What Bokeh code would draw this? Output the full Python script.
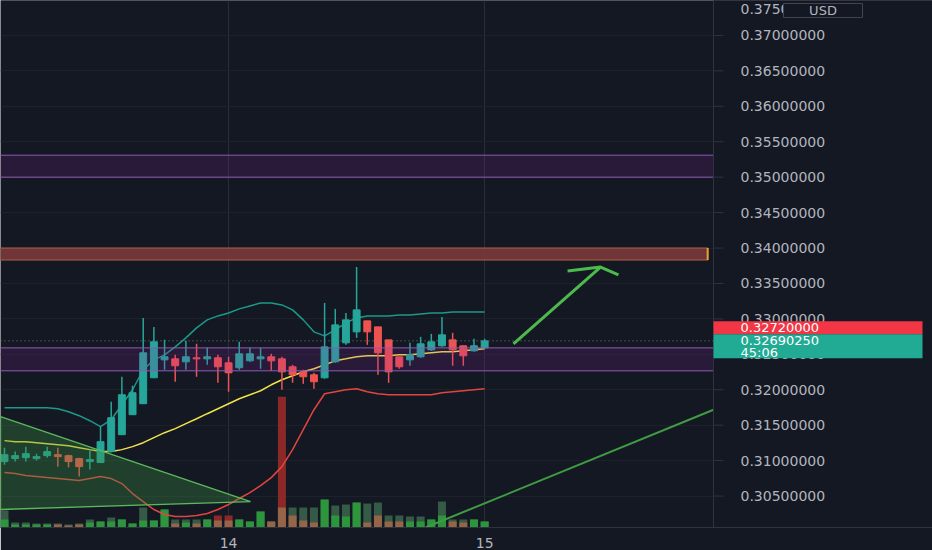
from bokeh.plotting import figure
from bokeh.models import Range1d, FixedTicker, Grid
from bokeh.core.properties import value
from bokeh.embed import file_html
from bokeh.resources import INLINE

# ---------------- data ----------------
idx = list(range(46))
opens = [0.30986, 0.31028, 0.31042, 0.31028, 0.31070, 0.31084, 0.31070, 0.31028, 0.30986, 0.30972,
         0.31127, 0.31366, 0.31648, 0.31803, 0.32169, 0.32422, 0.32436, 0.32394, 0.32451, 0.32436,
         0.32451, 0.32380, 0.32310, 0.32408, 0.32436, 0.32465, 0.32436, 0.32324, 0.32253, 0.32211,
         0.32169, 0.32394, 0.32662, 0.32817, 0.32972, 0.32887, 0.32704, 0.32465, 0.32422, 0.32465,
         0.32563, 0.32620, 0.32704, 0.32620, 0.32549, 0.32591]
closes = [0.31084, 0.31070, 0.31098, 0.31056, 0.31127, 0.31056, 0.30986, 0.30915, 0.31014, 0.31267,
          0.31605, 0.31929, 0.31958, 0.32521, 0.32676, 0.32465, 0.32338, 0.32465, 0.32436, 0.32465,
          0.32324, 0.32239, 0.32507, 0.32507, 0.32465, 0.32408, 0.32253, 0.32211, 0.32183, 0.32113,
          0.32605, 0.32915, 0.32986, 0.33127, 0.32817, 0.32521, 0.32253, 0.32324, 0.32493, 0.32648,
          0.32676, 0.32775, 0.32563, 0.32479, 0.32620, 0.32690]
highs = [0.31183, 0.31127, 0.31197, 0.31098, 0.31197, 0.31183, 0.31084, 0.31042, 0.31155, 0.31479,
         0.31831, 0.32183, 0.32056, 0.33014, 0.32887, 0.32704, 0.32493, 0.32690, 0.32648, 0.32591,
         0.32493, 0.32465, 0.32676, 0.32591, 0.32591, 0.32507, 0.32465, 0.32352, 0.32282, 0.32239,
         0.33225, 0.33141, 0.33084, 0.33732, 0.32972, 0.32887, 0.32704, 0.32465, 0.32662, 0.32746,
         0.32789, 0.33028, 0.32803, 0.32620, 0.32718, 0.32718]
lows = [0.30943, 0.30986, 0.30986, 0.31000, 0.31042, 0.30915, 0.30901, 0.30774, 0.30873, 0.30972,
        0.31127, 0.31366, 0.31648, 0.31803, 0.32169, 0.32282, 0.32113, 0.32282, 0.32183, 0.32352,
        0.32098, 0.31972, 0.32282, 0.32394, 0.32296, 0.32267, 0.32000, 0.32098, 0.32084, 0.32014,
        0.32155, 0.32380, 0.32634, 0.32732, 0.32634, 0.32211, 0.32098, 0.32296, 0.32338, 0.32451,
        0.32549, 0.32605, 0.32338, 0.32338, 0.32535, 0.32577]

band_upper = [0.31746, 0.31746, 0.31746, 0.31746, 0.31746, 0.31732, 0.31690, 0.31634, 0.31563, 0.31479,
              0.31577, 0.31789, 0.32000, 0.32282, 0.32422, 0.32493, 0.32606, 0.32732, 0.32873, 0.32986,
              0.33042, 0.33084, 0.33141, 0.33183, 0.33225, 0.33225, 0.33197, 0.33127, 0.32986, 0.32817,
              0.32760, 0.32845, 0.32944, 0.33014, 0.33042, 0.33042, 0.33042, 0.33056, 0.33056, 0.33070,
              0.33084, 0.33084, 0.33098, 0.33098, 0.33098, 0.33098]
band_mid = [0.31282, 0.31267, 0.31267, 0.31253, 0.31239, 0.31225, 0.31211, 0.31183, 0.31155, 0.31127,
            0.31127, 0.31155, 0.31197, 0.31253, 0.31324, 0.31394, 0.31451, 0.31521, 0.31591, 0.31662,
            0.31732, 0.31803, 0.31873, 0.31929, 0.31986, 0.32070, 0.32141, 0.32197, 0.32253, 0.32296,
            0.32352, 0.32408, 0.32436, 0.32465, 0.32479, 0.32479, 0.32479, 0.32493, 0.32493, 0.32507,
            0.32521, 0.32535, 0.32535, 0.32549, 0.32563, 0.32577]
band_lower = [0.30831, 0.30817, 0.30789, 0.30775, 0.30760, 0.30746, 0.30732, 0.30718, 0.30746, 0.30775,
              0.30746, 0.30676, 0.30535, 0.30422, 0.30310, 0.30239, 0.30211, 0.30211, 0.30225, 0.30253,
              0.30310, 0.30380, 0.30465, 0.30549, 0.30648, 0.30760, 0.30915, 0.31155, 0.31436, 0.31718,
              0.31944, 0.31972, 0.32000, 0.32014, 0.31972, 0.31944, 0.31929, 0.31929, 0.31929, 0.31929,
              0.31929, 0.31958, 0.31972, 0.31986, 0.32000, 0.32014]

# volume (relative units): total bar and the directional part drawn in front of it
vol_total = [17, 5, 5, 4, 4, 4, 3, 4, 8, 6, 10, 8, 4, 20, 7, 18, 8, 8, 8, 8, 12, 12, 8, 6, 16, 6,
             131, 20, 20, 20, 28, 22, 23, 25, 24, 25, 12, 12, 11, 11, 8, 26, 8, 8, 8, 6]
vol_part = [8, 3, 3, 3, 3, 3, 2, 3, 5, 6, 6, 8, 4, 7, 7, 18, 4, 5, 4, 8, 7, 7, 8, 6, 16, 6,
            20, 12, 7, 5, 28, 12, 11, 25, 5, 12, 6, 6, 6, 6, 8, 12, 6, 5, 8, 6]
vol_spike_idx = [20, 21, 26]

price_ticks = [0.305, 0.310, 0.315, 0.320, 0.325, 0.330, 0.335, 0.340, 0.345, 0.350,
               0.355, 0.360, 0.365, 0.370, 0.375]
day_ticks = [21, 45]
day_labels = ["14", "15"]

zone_purple_hi = (0.35000, 0.35310)
zone_purple_lo = (0.32267, 0.32591)
zone_orange = (0.33831, 0.34000)
zone_orange_end = 65.9

wedge_x = [-0.375, 23.06, -0.375]
wedge_y = [0.31620, 0.30422, 0.30310]
trend_x = [39.46, 66.45]
trend_y = [0.30056, 0.31718]
arrow_shaft_x = [47.7, 55.86]
arrow_shaft_y = [0.32648, 0.33732]
arrow_head_x = [52.77, 55.86, 57.54]
arrow_head_y = [0.33676, 0.33732, 0.33620]

last_price = 0.3269025
last_price_text = "0.32690250"
countdown_text = "45:06"
other_price = 0.3272
other_price_text = "0.32720000"
currency = "USD"

# ---------------- layout constants ----------------
W, H = 932, 550
FRAME_H = 528
PPX = 10.67                      # pixels per candle
X0 = -0.375
X1 = X0 + W / PPX
Y0, Y1 = 0.30056, 0.37493
PPY = FRAME_H / (Y1 - Y0)        # pixels per price unit
SCALE_X = X0 + 713 / PPX         # left edge of the price scale


def dx(px):
    return px / PPX


def dy(px):
    return px / PPY


BG = "#141823"
TXT = "#b2b5be"
UP = "#26a69a"
DN = "#ef5350"
SEP = "#2f3340"
FONT = value("DejaVu Sans")

p = figure(width=W, height=H, output_backend="svg", toolbar_location=None,
           x_range=Range1d(X0, X1), y_range=Range1d(Y0, Y1),
           y_axis_location=None, min_border_left=0, min_border_top=0,
           min_border_right=0, min_border_bottom=H - FRAME_H)
p.background_fill_color = BG
p.border_fill_color = BG
p.outline_line_color = None
p.extra_y_ranges = {"vol": Range1d(0, FRAME_H)}

xa = p.xaxis[0]
xa.ticker = FixedTicker(ticks=day_ticks)
xa.major_label_overrides = {t: l for t, l in zip(day_ticks, day_labels)}
xa.major_label_text_font = "DejaVu Sans"
xa.major_label_text_font_size = "14px"
xa.major_label_text_color = TXT
xa.axis_line_color = SEP
xa.major_tick_line_color = None
xa.minor_tick_line_color = None
xa.major_label_standoff = 4

p.xgrid.grid_line_color = "#2a2e39"
p.add_layout(Grid(dimension=1, ticker=FixedTicker(ticks=price_ticks),
                  grid_line_color="#1d212c"))

# price-scale background (hides grid in the scale area)
p.quad(left=[SCALE_X], right=[X1 + 1], bottom=[Y0 - 1], top=[Y1 + 1],
       fill_color=BG, line_color=None)

# volume
up = [c >= o for o, c in zip(opens, closes)]
total_colors = ["#8c2828" if i in vol_spike_idx else "#355a45" for i in idx]
part_colors = ["#2d963c" if u else "#966446" for u in up]
p.vbar(x=idx, top=vol_total, bottom=0, width=0.75, y_range_name="vol",
       fill_color=total_colors, line_color=None)
p.vbar(x=idx, top=vol_part, bottom=0, width=0.75, y_range_name="vol",
       fill_color=part_colors, line_color=None)

# bands
p.line(idx, band_upper, line_color="#1b998b", line_width=1.5)
p.line(idx, band_mid, line_color="#f0e44a", line_width=1.5)
p.line(idx, band_lower, line_color="#e0463f", line_width=1.5)

# candles
colors = [UP if u else DN for u in up]
tops = [max(o, c) for o, c in zip(opens, closes)]
bots = [min(o, c) for o, c in zip(opens, closes)]
p.segment(x0=idx, y0=highs, x1=idx, y1=lows, line_color=colors, line_width=1.5)
p.vbar(x=idx, top=tops, bottom=bots, width=0.65, fill_color=colors, line_color=colors)

# zones
for (lo, hi) in (zone_purple_hi, zone_purple_lo):
    p.quad(left=[X0 - 1], right=[SCALE_X], bottom=[lo], top=[hi], fill_color="#9c27b0",
           fill_alpha=0.16, line_color="#8e5bb5", line_width=1)
p.quad(left=[X0 - 1], right=[zone_orange_end], bottom=[zone_orange[0]], top=[zone_orange[1]],
       fill_color="#7a383c", fill_alpha=0.9, line_color="#b0603c", line_width=1.2)
p.segment(x0=[zone_orange_end], y0=[zone_orange[0]], x1=[zone_orange_end], y1=[zone_orange[1]],
          line_color="#e8a030", line_width=2)

# wedge
p.patch(wedge_x, wedge_y, fill_color="#3a8f40", fill_alpha=0.33,
        line_color="#5cb85c", line_width=1.3)

# trend line and arrow
p.line(trend_x, trend_y, line_color="#3f9c42", line_width=2)
p.line(arrow_shaft_x, arrow_shaft_y, line_color="#4cbb4c", line_width=3)
p.line(arrow_head_x, arrow_head_y, line_color="#4cbb4c", line_width=3)

# last price dotted line
p.segment(x0=[X0], y0=[last_price], x1=[SCALE_X], y1=[last_price],
          line_color="#787b86", line_dash="1 3", line_width=1)

# ---------------- price scale ----------------
p.segment(x0=[SCALE_X], y0=[Y0 - 1], x1=[SCALE_X], y1=[Y1 + 1], line_color=SEP, line_width=1)
p.segment(x0=[SCALE_X] * len(price_ticks), y0=price_ticks,
          x1=[SCALE_X + dx(10)] * len(price_ticks), y1=price_ticks,
          line_color=SEP, line_width=1)
label_x = SCALE_X + dx(27)
inner_ticks = [t for t in price_ticks if t < Y1]
edge_ticks = [t for t in price_ticks if t >= Y1]
p.text(x=[label_x] * len(inner_ticks), y=inner_ticks,
       text=[f"{t:.8f}" for t in inner_ticks], text_font=FONT,
       text_font_size=value("14px"), text_color=TXT,
       text_align="left", text_baseline="middle")
# the top tick sits on the edge: its label is kept just inside the frame
p.text(x=[label_x] * len(edge_ticks), y=[Y1 - dy(4)] * len(edge_ticks),
       text=[f"{t:.8f}" for t in edge_ticks], text_font=FONT,
       text_font_size=value("14px"), text_color=TXT,
       text_align="left", text_baseline="top")

# red price box
red_c = other_price + dy(11)
p.quad(left=[SCALE_X], right=[SCALE_X + dx(209)], bottom=[red_c - dy(6.5)], top=[red_c + dy(6.5)],
       fill_color="#f23645", line_color=None)
p.text(x=[label_x], y=[red_c], text=[other_price_text], text_font=FONT,
       text_font_size=value("13px"), text_color="#ffffff",
       text_align="left", text_baseline="middle")

# last price box
teal_top = red_c - dy(6.5)
p.quad(left=[SCALE_X], right=[SCALE_X + dx(209)], bottom=[teal_top - dy(24)], top=[teal_top],
       fill_color="#22ab94", line_color=None)
p.text(x=[label_x, label_x], y=[last_price, last_price - dy(12)],
       text=[last_price_text, countdown_text], text_font=FONT,
       text_font_size=value("13px"), text_color="#ffffff",
       text_align="left", text_baseline="middle")

# currency badge
usd_l, usd_r = SCALE_X + dx(70), SCALE_X + dx(149)
usd_t, usd_b = Y1 - dy(3), Y1 - dy(17)
p.quad(left=[usd_l], right=[usd_r], top=[usd_t], bottom=[usd_b],
       fill_color=BG, line_color="#434651", line_width=1)
p.text(x=[(usd_l + usd_r) / 2], y=[(usd_t + usd_b) / 2], text=[currency], text_font=FONT,
       text_font_size=value("13px"), text_color=TXT,
       text_align="center", text_baseline="middle")

open("out.html", "w").write(file_html(p, INLINE))
